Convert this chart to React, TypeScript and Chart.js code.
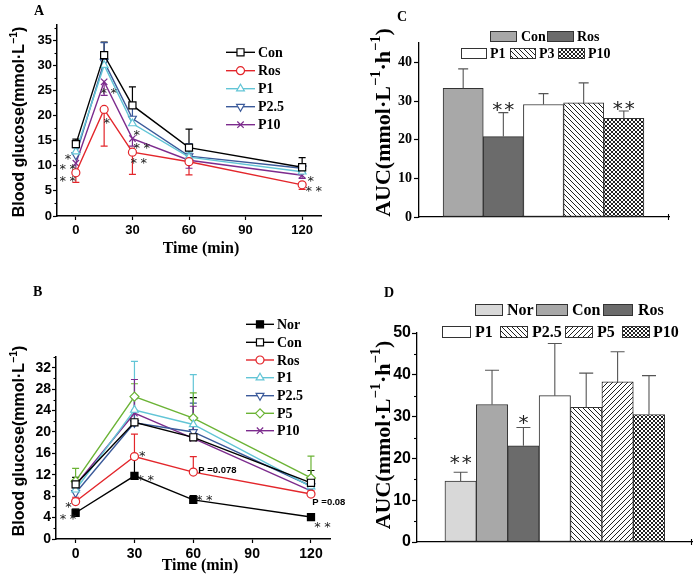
import React, { useEffect, useRef } from 'react';
import { Chart, registerables } from 'chart.js';

Chart.register(...registerables);

const SANS = '"Liberation Sans", Arial, Helvetica, sans-serif';
const SERIF = '"Liberation Serif", "Times New Roman", Times, serif';
const STARFONT = '"DejaVu Sans", sans-serif';

// ---------------- Panel A data ----------------
const timesA = [0, 15, 30, 60, 120];
const xTicksA = [0, 30, 60, 90, 120];
const yTicksA = [0, 5, 10, 15, 20, 25, 30, 35];
const conA = [14.3, 32.0, 22.0, 13.6, 9.7];
const conAErr = [1.0, 2.6, 3.7, 3.7, 1.9];
const rosA = [8.6, 21.2, 12.7, 10.8, 6.2];
const rosAErr = [1.9, 7.3, 4.4, 2.6, 0.9];
const p1A = [12.8, 30.0, 18.4, 11.7, 8.8];
const p1AErr = [0.8, 1.5, 1.0, 1.0, 0.8];
const p25A = [12.1, 30.7, 19.4, 11.9, 9.5];
const p25AErr = [1.5, 3.8, 2.0, 2.5, 0.8];
const p10A = [10.5, 26.7, 15.4, 11.1, 8.1];
const p10AErr = [1.5, 2.7, 1.5, 1.6, 0.6];

// ---------------- Panel B data ----------------
const timesB = [0, 30, 60, 120];
const xTicksB = [0, 30, 60, 90, 120];
const yTicksB = [0, 4, 8, 12, 16, 20, 24, 28, 32];
const norB = [4.9, 11.8, 7.3, 4.1];
const norBErr = [0.7, 3.5, 0.8, 0.4];
const conB = [10.2, 21.8, 19.0, 10.5];
const conBErr = [1.3, 4.8, 7.4, 2.3];
const rosB = [7.0, 15.4, 12.5, 8.4];
const rosBErr = [0.8, 4.2, 2.9, 0.6];
const p1B = [9.2, 24.1, 21.4, 9.8];
const p1BErr = [1.2, 9.1, 9.3, 1.2];
const p25B = [8.6, 21.7, 20.0, 9.9];
const p25BErr = [1.0, 4.5, 5.4, 1.5];
const p5B = [10.8, 26.6, 22.6, 11.4];
const p5BErr = [2.4, 2.4, 4.7, 4.1];
const p10B = [10.1, 23.5, 18.8, 9.0];
const p10BErr = [0.9, 6.3, 6.0, 1.6];

// ---------------- Panel C data ----------------
const groupsC = ['Con', 'Ros', 'P1', 'P3', 'P10'];
const aucC = [33.3, 20.8, 29.1, 29.5, 25.5];
const aucCErr = [5.0, 6.2, 2.8, 5.2, 1.9];
const yTicksC = [0, 10, 20, 30, 40];

// ---------------- Panel D data ----------------
const groupsD = ['Nor', 'Con', 'Ros', 'P1', 'P2.5', 'P5', 'P10'];
const aucD = [14.6, 32.9, 23.0, 35.0, 32.2, 38.3, 30.5];
const aucDErr = [2.1, 8.2, 4.4, 12.5, 8.2, 7.2, 9.3];
const yTicksD = [0, 10, 20, 30, 40, 50];

const RED = '#e3262b';
const CYAN = '#62c5d6';
const NAVY = '#3b5a9a';
const PURPLE = '#7c2b8d';
const GREEN = '#6bb335';

type Part = { t: string; sup?: boolean };
type TextSpec = {
  t?: string; parts?: Part[]; x: number; y: number; size: number; family: string;
  bold?: boolean; align?: CanvasTextAlign; baseline?: CanvasTextBaseline; rot?: number;
  data?: boolean; star?: boolean; color?: string; spacing?: number;
};

function drawMarker(ctx: CanvasRenderingContext2D, style: string, x: number, y: number, r: number, rot: number, fill: string, stroke: string, lw: number) {
  ctx.save();
  ctx.translate(x, y);
  ctx.rotate((rot || 0) * Math.PI / 180);
  ctx.beginPath();
  let doFill = true;
  if (style === 'circle') ctx.arc(0, 0, r, 0, Math.PI * 2);
  else if (style === 'rect') { const s = r * Math.SQRT1_2; ctx.rect(-s, -s, 2 * s, 2 * s); }
  else if (style === 'rectRot') { ctx.moveTo(-r, 0); ctx.lineTo(0, -r); ctx.lineTo(r, 0); ctx.lineTo(0, r); ctx.closePath(); }
  else if (style === 'triangle') {
    let a = 0;
    ctx.moveTo(Math.sin(a) * r, -Math.cos(a) * r);
    a += Math.PI * 2 / 3; ctx.lineTo(Math.sin(a) * r, -Math.cos(a) * r);
    a += Math.PI * 2 / 3; ctx.lineTo(Math.sin(a) * r, -Math.cos(a) * r);
    ctx.closePath();
  } else if (style === 'crossRot') {
    const c = Math.SQRT1_2 * r;
    ctx.moveTo(-c, -c); ctx.lineTo(c, c); ctx.moveTo(-c, c); ctx.lineTo(c, -c);
    doFill = false;
  }
  if (doFill) { ctx.fillStyle = fill; ctx.fill(); }
  ctx.strokeStyle = stroke; ctx.lineWidth = lw; ctx.stroke();
  ctx.restore();
}

function drawText(ctx: CanvasRenderingContext2D, chart: any, s: TextSpec) {
  let x = s.x, y = s.y;
  if (s.data) { x = chart.scales.x.getPixelForValue(s.x); y = chart.scales.y.getPixelForValue(s.y); }
  const w = s.bold === false ? 'normal' : 'bold';
  ctx.save();
  ctx.fillStyle = s.color || '#000';
  if (s.parts) {
    ctx.translate(x, y);
    if (s.rot) ctx.rotate(s.rot);
    const sup = s.size * 0.66;
    const widths = s.parts.map(p => { ctx.font = `${w} ${p.sup ? sup : s.size}px ${s.family}`; return ctx.measureText(p.t).width; });
    const total = widths.reduce((a, b) => a + b, 0);
    let cx = -total / 2;
    ctx.textAlign = 'left';
    ctx.textBaseline = 'alphabetic';
    const base = s.size * 0.36;
    s.parts.forEach((p, i) => {
      ctx.font = `${w} ${p.sup ? sup : s.size}px ${s.family}`;
      ctx.fillText(p.t, cx, base - (p.sup ? s.size * 0.45 : 0));
      cx += widths[i];
    });
  } else {
    ctx.font = `${w} ${s.size}px ${s.family}`;
    ctx.textAlign = s.align || 'left';
    if (s.star) {
      ctx.textBaseline = 'alphabetic';
      y += s.size * 0.59;
      ctx.textAlign = 'left';
      const chars = (s.t as string).split('');
      const gap = s.spacing || 0;
      const ws = chars.map(c => ctx.measureText(c).width);
      const total = ws.reduce((a, b) => a + b, 0) + gap * (chars.length - 1);
      let cx = x - total / 2;
      chars.forEach((c, i) => { ctx.fillText(c, cx, y); cx += ws[i] + gap; });
    } else {
      ctx.textBaseline = s.baseline || 'alphabetic';
      ctx.fillText(s.t as string, x, y);
    }
  }
  ctx.restore();
}

function drawErrors(chart: any, cap: number) {
  const ctx = chart.ctx as CanvasRenderingContext2D;
  const ys = chart.scales.y;
  chart.data.datasets.forEach((ds: any, i: number) => {
    if (!ds.err) return;
    const meta = chart.getDatasetMeta(i);
    meta.data.forEach((el: any, j: number) => {
      const e = ds.err[j];
      if (!e) return;
      const v = ds.data[j].y;
      const y1 = ys.getPixelForValue(v + (ds.errDir || 1) * e);
      ctx.save();
      ctx.strokeStyle = ds.errColor || ds.borderColor;
      ctx.lineWidth = ds.errWidth || 1.2;
      ctx.beginPath();
      ctx.moveTo(el.x, el.y); ctx.lineTo(el.x, y1);
      ctx.moveTo(el.x - cap, y1); ctx.lineTo(el.x + cap, y1);
      ctx.stroke();
      ctx.restore();
    });
  });
}

type DecorCfg = {
  texts: TextSpec[];
  errBehind?: boolean;
  cap: number;
  minor?: number; minorLen?: number; yMax: number;
  endTick?: boolean;
  lineLegend?: { x1: number; x2: number; xm: number; xt: number; ys: number[]; size: number };
  boxLegend?: { items: { bx: number; by: number; bw: number; bh: number; tx: number }[]; labels: string[]; size: number };
};

function decor(cfg: DecorCfg) {
  return {
    id: 'decor',
    beforeDatasetsDraw(chart: any) { if (cfg.errBehind) drawErrors(chart, cfg.cap); },
    afterDatasetsDraw(chart: any) { if (!cfg.errBehind) drawErrors(chart, cfg.cap); },
    afterDraw(chart: any) {
      const ctx = chart.ctx as CanvasRenderingContext2D;
      const area = chart.chartArea;
      const ys = chart.scales.y;
      ctx.save();
      ctx.strokeStyle = '#000';
      ctx.lineWidth = 1.1;
      if (cfg.minor) {
        for (let v = cfg.minor; v <= cfg.yMax + 0.001; v += cfg.minor * 2) {
          const py = Math.round(ys.getPixelForValue(v)) + 0.5;
          ctx.beginPath(); ctx.moveTo(area.left - (cfg.minorLen || 2.5), py); ctx.lineTo(area.left, py); ctx.stroke();
        }
      }
      if (cfg.endTick) {
        const px = Math.round(area.right) - 0.5;
        ctx.beginPath(); ctx.moveTo(px, area.bottom - 3); ctx.lineTo(px, area.bottom + 3); ctx.stroke();
      }
      ctx.restore();
      if (cfg.lineLegend) {
        const L = cfg.lineLegend;
        chart.data.datasets.forEach((ds: any, i: number) => {
          const y = L.ys[i];
          ctx.save();
          ctx.strokeStyle = ds.borderColor; ctx.lineWidth = ds.borderWidth;
          ctx.beginPath(); ctx.moveTo(L.x1, y); ctx.lineTo(L.x2, y); ctx.stroke();
          ctx.restore();
          drawMarker(ctx, ds.pointStyle, L.xm, y, ds.pointRadius, ds.pointRotation || 0, ds.pointBackgroundColor, ds.borderColor, ds.pointBorderWidth);
          drawText(ctx, chart, { t: ds.label, x: L.xt, y: y + 1, size: L.size, family: SERIF, baseline: 'middle' });
        });
      }
      if (cfg.boxLegend) {
        const B = cfg.boxLegend;
        const ds: any = chart.data.datasets[0];
        B.items.forEach((it, i) => {
          ctx.save();
          ctx.fillStyle = ds.backgroundColor[i];
          ctx.fillRect(it.bx, it.by, it.bw, it.bh);
          ctx.strokeStyle = '#333'; ctx.lineWidth = 1;
          ctx.strokeRect(it.bx + 0.5, it.by + 0.5, it.bw - 1, it.bh - 1);
          ctx.restore();
          drawText(ctx, chart, { t: B.labels[i], x: it.tx, y: it.by + it.bh / 2 + 1, size: B.size, family: SERIF, baseline: 'middle' });
        });
      }
      cfg.texts.forEach(t => drawText(ctx, chart, t));
    },
  };
}

function lineDs(label: string, xs: number[], ys: number[], err: number[], dir: number, color: string, style: string, radius: number, rotation = 0, fill = '#fff') {
  return {
    label,
    data: xs.map((x, i) => ({ x, y: ys[i] })),
    borderColor: color, backgroundColor: color, borderWidth: 1.4,
    pointStyle: style, pointRadius: radius, pointBorderWidth: 1.2,
    pointBorderColor: color, pointBackgroundColor: fill, pointRotation: rotation,
    tension: 0, clip: false, err, errDir: dir,
  };
}

function lineChart(o: any) {
  const tickFont = { family: SANS, size: o.tickSize, weight: 'bold' as const };
  const grid = { drawOnChartArea: false, tickLength: 4, tickColor: '#000', tickWidth: 1.2 };
  const border = { color: '#000', width: 1.5 };
  return {
    type: 'line',
    data: { datasets: o.datasets },
    options: {
      responsive: false, animation: false, devicePixelRatio: 1, events: [],
      layout: { padding: { top: o.padTop, right: o.padRight, left: 0, bottom: 0 } },
      plugins: { legend: { display: false }, tooltip: { enabled: false } },
      scales: {
        x: {
          type: 'linear', min: -10, max: 130,
          afterBuildTicks: (s: any) => { s.ticks = o.xTicks.map((v: number) => ({ value: v })); },
          afterFit: (s: any) => { s.height = o.xHeight; },
          ticks: { font: tickFont, color: '#000', padding: 3, maxRotation: 0, autoSkip: false },
          grid, border,
        },
        y: {
          type: 'linear', min: 0, max: o.yMax,
          afterBuildTicks: (s: any) => { s.ticks = o.yTicks.map((v: number) => ({ value: v })); },
          afterFit: (s: any) => { s.width = o.yWidth; },
          ticks: { font: tickFont, color: '#000', padding: 1, autoSkip: false },
          grid, border,
        },
      },
    },
    plugins: [decor(o.decor)],
  };
}

function makePattern(kind: string): CanvasPattern | string {
  const s = kind === 'cross' ? 4 : 5;
  const c = document.createElement('canvas');
  c.width = s; c.height = s;
  const g = c.getContext('2d');
  if (!g) return '#fff';
  g.fillStyle = '#fff'; g.fillRect(0, 0, s, s);
  g.strokeStyle = '#222'; g.lineWidth = 1;
  const back = () => { for (const k of [-s, 0, s]) { g.beginPath(); g.moveTo(k, 0); g.lineTo(k + s, s); g.stroke(); } };
  const fwd = () => { for (const k of [-s, 0, s]) { g.beginPath(); g.moveTo(k + s, 0); g.lineTo(k, s); g.stroke(); } };
  if (kind === 'back') back();
  else if (kind === 'fwd') fwd();
  else { back(); fwd(); }
  return g.createPattern(c, 'repeat') || '#fff';
}

function barChart(o: any) {
  const grid = { drawOnChartArea: false, tickLength: 5, tickColor: '#000', tickWidth: 1.2 };
  const border = { color: '#000', width: 1.3 };
  return {
    type: 'bar',
    data: {
      datasets: [{
        data: o.values.map((v: number, i: number) => ({ x: i, y: v })),
        backgroundColor: o.fills, borderColor: '#333', borderWidth: 1, borderSkipped: false,
        categoryPercentage: 1, barPercentage: 1,
        err: o.err, errDir: 1, errColor: '#555', errWidth: 1.1,
      }],
    },
    options: {
      responsive: false, animation: false, devicePixelRatio: 1, events: [],
      layout: { padding: { top: o.padTop, right: o.padRight, left: 0, bottom: 0 } },
      plugins: { legend: { display: false }, tooltip: { enabled: false } },
      scales: {
        x: {
          type: 'linear', min: o.xMin, max: o.xMax, offset: false,
          ticks: { display: false }, grid: { display: false }, border,
          afterFit: (s: any) => { s.height = o.xHeight; },
        },
        y: {
          type: 'linear', min: 0, max: o.yMax,
          afterBuildTicks: (s: any) => { s.ticks = o.yTicks.map((v: number) => ({ value: v })); },
          afterFit: (s: any) => { s.width = o.yWidth; },
          ticks: { font: o.tickFont, color: '#000', padding: o.tickPad, autoSkip: false },
          grid, border,
        },
      },
    },
    plugins: [decor(o.decor)],
  };
}

const star = (x: number, y: number, n: number, size: number, spacing: number): TextSpec =>
  ({ t: '*'.repeat(n), x, y, data: true, star: true, size, spacing, family: STARFONT, bold: false, color: '#222' });

function buildA() {
  const datasets = [
    lineDs('Con', timesA, conA, conAErr, 1, '#000', 'rect', 5),
    lineDs('Ros', timesA, rosA, rosAErr, -1, RED, 'circle', 4),
    lineDs('P1', timesA, p1A, p1AErr, 1, CYAN, 'triangle', 4.5),
    lineDs('P2.5', timesA, p25A, p25AErr, 1, NAVY, 'triangle', 4.5, 180),
    lineDs('P10', timesA, p10A, p10AErr, -1, PURPLE, 'crossRot', 4.5),
  ];
  return lineChart({
    datasets, xTicks: xTicksA, yTicks: yTicksA, yMax: 38, tickSize: 13,
    yWidth: 57, xHeight: 59, padTop: 25, padRight: 19,
    decor: {
      errBehind: true, cap: 3.5, minor: 2.5, yMax: 38,
      lineLegend: { x1: 226, x2: 255, xm: 240.5, xt: 258, ys: [52.3, 70.7, 88.7, 106.7, 124.7], size: 14 },
      texts: [
        { t: 'A', x: 34, y: 15, size: 14, family: SERIF },
        { parts: [{ t: 'Blood glucose(mmol·L' }, { t: '−1', sup: true }, { t: ')' }], x: 18.5, y: 122, size: 16, family: SANS, rot: -Math.PI / 2 },
        { t: 'Time (min)', x: 201, y: 253, size: 16, family: SERIF, align: 'center' },
        star(-4.2, 12.1, 1, 13, 4), star(-4.3, 10.0, 2, 13, 3.5), star(-4.3, 7.65, 2, 13, 3.5),
        star(17.5, 25.3, 2, 13, 3.5), star(16.4, 19.3, 1, 13, 4),
        star(32.3, 16.9, 1, 13, 4), star(35.0, 14.3, 2, 13, 3.5), star(33.4, 11.2, 2, 13, 3.5),
        star(124.5, 7.75, 1, 13, 4), star(126.1, 5.7, 2, 13, 3.5),
      ],
    },
  });
}

function buildB() {
  const datasets = [
    lineDs('Nor', timesB, norB, norBErr, 1, '#000', 'rect', 5, 0, '#000'),
    lineDs('Con', timesB, conB, conBErr, 1, '#000', 'rect', 5),
    lineDs('Ros', timesB, rosB, rosBErr, 1, RED, 'circle', 4),
    lineDs('P1', timesB, p1B, p1BErr, 1, CYAN, 'triangle', 4.5),
    lineDs('P2.5', timesB, p25B, p25BErr, 1, NAVY, 'triangle', 4.5, 180),
    lineDs('P5', timesB, p5B, p5BErr, 1, GREEN, 'rectRot', 4.5),
    lineDs('P10', timesB, p10B, p10BErr, 1, PURPLE, 'crossRot', 4.5),
  ];
  return lineChart({
    datasets, xTicks: xTicksB, yTicks: yTicksB, yMax: 34, tickSize: 14,
    yWidth: 56, xHeight: 40, padTop: 82, padRight: 19.4,
    decor: {
      errBehind: true, cap: 3.5, minor: 2, yMax: 34,
      lineLegend: { x1: 246, x2: 274, xm: 260, xt: 277, ys: [49.3, 67.3, 85, 102.7, 120.7, 138.3, 155.7], size: 14 },
      texts: [
        { t: 'B', x: 33, y: 21, size: 14, family: SERIF },
        { parts: [{ t: 'Blood glucose(mmol·L' }, { t: '−1', sup: true }, { t: ')' }], x: 18.5, y: 166, size: 16, family: SANS, rot: -Math.PI / 2 },
        { t: 'Time (min)', x: 200, y: 295, size: 16, family: SERIF, align: 'center' },
        star(-3.6, 6.7, 1, 13, 4), star(-3.9, 4.4, 2, 13, 3.5),
        star(34.0, 16.1, 1, 13, 4), star(35.8, 11.8, 2, 13, 3.5),
        star(65.6, 7.9, 2, 13, 3.5), star(125.9, 2.9, 2, 13, 3.5),
        { t: 'P =0.078', x: 62.5, y: 12.9, data: true, size: 9.5, family: SANS, baseline: 'middle' },
        { t: 'P =0.08', x: 120.7, y: 6.8, data: true, size: 9.5, family: SANS, baseline: 'middle' },
      ],
    },
  });
}

function buildC() {
  const fills = ['#a8a8a8', '#6b6b6b', '#ffffff', makePattern('back'), makePattern('cross')];
  return barChart({
    values: aucC, err: aucCErr, fills, xMin: -1.1, xMax: 5.125, yMax: 45, yTicks: yTicksC,
    tickFont: { family: SERIF, size: 14, weight: 'bold' }, tickPad: 2,
    yWidth: 79, xHeight: 58, padTop: 43, padRight: 24,
    decor: {
      cap: 5, yMax: 45, endTick: true,
      boxLegend: {
        labels: groupsC, size: 14,
        items: [
          { bx: 150, by: 31, bw: 27, bh: 11, tx: 181 },
          { bx: 207, by: 31, bw: 27, bh: 11, tx: 237 },
          { bx: 121, by: 48, bw: 26, bh: 11, tx: 150 },
          { bx: 170, by: 48, bw: 26, bh: 11, tx: 199 },
          { bx: 218, by: 48, bw: 27, bh: 11, tx: 248 },
        ],
      },
      texts: [
        { t: 'C', x: 57, y: 21, size: 14, family: SERIF },
        { parts: [{ t: 'AUC(mmol·L' }, { t: '−1', sup: true }, { t: '·h' }, { t: '−1', sup: true }, { t: ')' }], x: 42, y: 122.5, size: 22, family: SERIF, rot: -Math.PI / 2 },
        star(1, 29.1, 2, 20, 2), star(4, 29.5, 2, 20, 2),
      ],
    },
  });
}

function buildD() {
  const fills = ['#d8d8d8', '#a8a8a8', '#6b6b6b', '#ffffff', makePattern('back'), makePattern('fwd'), makePattern('cross')];
  return barChart({
    values: aucD, err: aucDErr, fills, xMin: -1.39, xMax: 7.37, yMax: 50, yTicks: yTicksD,
    tickFont: { family: SANS, size: 16, weight: 'bold' }, tickPad: 1,
    yWidth: 77, xHeight: 37, padTop: 58, padRight: 1,
    decor: {
      cap: 7, minor: 5, minorLen: 3, yMax: 50, endTick: true,
      boxLegend: {
        labels: groupsD, size: 16,
        items: [
          { bx: 135, by: 29, bw: 28, bh: 12, tx: 167 },
          { bx: 196, by: 29, bw: 32, bh: 12, tx: 232 },
          { bx: 263, by: 29, bw: 30, bh: 12, tx: 298 },
          { bx: 102, by: 51, bw: 29, bh: 12, tx: 135 },
          { bx: 160, by: 51, bw: 28, bh: 12, tx: 192 },
          { bx: 225, by: 51, bw: 28, bh: 12, tx: 257 },
          { bx: 282, by: 51, bw: 28, bh: 12, tx: 313 },
        ],
      },
      texts: [
        { t: 'D', x: 44, y: 22, size: 14, family: SERIF },
        { parts: [{ t: 'AUC(mmol·L' }, { t: '−1', sup: true }, { t: '·h' }, { t: '−1', sup: true }, { t: ')' }], x: 42, y: 160, size: 22, family: SERIF, rot: -Math.PI / 2 },
        star(0, 20.2, 2, 20, 2), star(2, 29.9, 1, 20, 0),
      ],
    },
  });
}

function ChartCanvas(props: { left: number; top: number; width: number; height: number; build: () => any }) {
  const ref = useRef<HTMLCanvasElement>(null);
  useEffect(() => {
    if (!ref.current) return;
    const chart = new Chart(ref.current, props.build());
    return () => chart.destroy();
  }, []);
  const { left, top, width, height } = props;
  return (
    <canvas ref={ref} width={width} height={height}
      style={{ position: 'absolute', left, top, width, height, display: 'block' }} />
  );
}

export default function App() {
  return (
    <div style={{ position: 'absolute', left: 0, top: 0, width: 693, height: 579, background: '#fff', overflow: 'hidden' }}>
      <ChartCanvas left={340} top={275} width={353} height={304} build={buildD} />
      <ChartCanvas left={340} top={0} width={353} height={275} build={buildC} />
      <ChartCanvas left={0} top={0} width={340} height={275} build={buildA} />
      <ChartCanvas left={0} top={275} width={350} height={304} build={buildB} />
    </div>
  );
}
